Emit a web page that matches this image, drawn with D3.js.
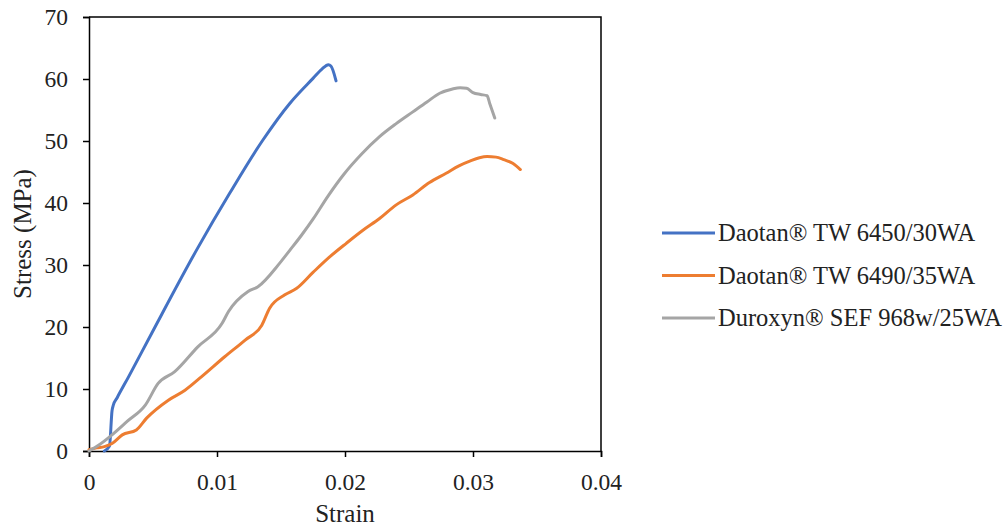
<!DOCTYPE html>
<html>
<head>
<meta charset="utf-8">
<script src="https://cdn.jsdelivr.net/npm/d3@7"></script>
<style>
  body { margin: 0; background: #fff; }
  svg { display: block; font-family: "Liberation Serif", "Times New Roman", serif; }
</style>
</head>
<body>
<svg id="chart" width="1005" height="529"></svg>
<script>
// series names (legend order)
var seriesNames = ["Daotan\u00ae TW 6450/30WA", "Daotan\u00ae TW 6490/35WA", "Duroxyn\u00ae SEF 968w/25WA"];
var seriesColors = ["#4472C4", "#ED7D31", "#A5A5A5"];

// strain / stress
var strain6450 = [0.0012, 0.0016, 0.0018, 0.0019, 0.0022, 0.0031, 0.0049, 0.0084, 0.011, 0.0136, 0.0157, 0.0175, 0.0182, 0.0187, 0.0189, 0.0193];
var stress6450 = [0, 0.8, 6.5, 7.4, 8.6, 12, 19, 32.4, 41.6, 50.2, 56.1, 60.1, 61.6, 62.3, 62.1, 59.7];

var strain6490 = [0, 0.0006, 0.0012, 0.0018, 0.0026, 0.0037, 0.0045, 0.0062, 0.0075, 0.0088, 0.0106, 0.0122, 0.0135, 0.0141, 0.0153, 0.0162, 0.0175, 0.0188, 0.0201, 0.0214, 0.0227, 0.024, 0.0253, 0.0266, 0.0279, 0.0289, 0.0298, 0.0305, 0.0311, 0.0318, 0.0324, 0.0331, 0.0337];
var stress6490 = [0.2, 0.5, 0.7, 1.2, 2.6, 3.4, 5.3, 8.2, 9.8, 12.0, 15.2, 17.9, 20.3, 23.0, 25.2, 26.2, 28.8, 31.3, 33.5, 35.6, 37.5, 39.7, 41.3, 43.3, 44.8, 46.0, 46.8, 47.3, 47.5, 47.4, 47.0, 46.4, 45.4];

var strain968 = [0, 0.0008, 0.0018, 0.003, 0.0044, 0.0054, 0.0067, 0.0085, 0.0104, 0.0109, 0.0124, 0.0132, 0.0149, 0.0157, 0.0166, 0.0175, 0.0187, 0.0199, 0.0213, 0.0227, 0.024, 0.0253, 0.0264, 0.0274, 0.0284, 0.029, 0.0295, 0.03, 0.0306, 0.0311, 0.0313, 0.0317];
var stress968 = [0, 1.0, 2.6, 4.8, 7.4, 10.9, 12.8, 16.8, 20.6, 22.5, 25.7, 26.5, 30.3, 32.4, 34.8, 37.4, 41.2, 44.6, 47.9, 50.7, 52.8, 54.7, 56.3, 57.7, 58.4, 58.6, 58.5, 57.8, 57.5, 57.3, 56.1, 53.7];

var xTicks = [0, 0.01, 0.02, 0.03, 0.04];
var yTicks = [0, 10, 20, 30, 40, 50, 60, 70];

var series = [
  { name: seriesNames[0], color: seriesColors[0], xs: strain6450, ys: stress6450 },
  { name: seriesNames[1], color: seriesColors[1], xs: strain6490, ys: stress6490 },
  { name: seriesNames[2], color: seriesColors[2], xs: strain968, ys: stress968 }
];

// plot box edges
var plotLeft = 89, plotRight = 601, plotTop = 17, plotBottom = 451;

var svg = d3.select("#chart");

var x = d3.scaleLinear().domain([0, 0.04]).range([plotLeft, plotRight]);
var y = d3.scaleLinear().domain([0, 70]).range([plotBottom, plotTop]);

// frame (top and right edges)
svg.append("path")
  .attr("d", "M" + plotLeft + "," + plotTop + "H" + plotRight + "V" + plotBottom)
  .attr("fill", "none")
  .attr("stroke", "#000")
  .attr("stroke-width", 1.5);

// y axis
var yAxis = svg.append("g")
  .attr("transform", "translate(" + plotLeft + ",0)")
  .call(d3.axisLeft(y).tickValues(yTicks).tickSize(6).tickPadding(15).tickFormat(d3.format("d")));

// x axis
var xAxis = svg.append("g")
  .attr("transform", "translate(0," + plotBottom + ")")
  .call(d3.axisBottom(x).tickValues(xTicks).tickSize(6).tickPadding(16)
    .tickFormat(function(d){ return d === 0 ? "0" : d3.format(".2f")(d); }));

[xAxis, yAxis].forEach(function(ax){
  ax.select(".domain").attr("stroke", "#000").attr("stroke-width", 1.5);
  ax.selectAll(".tick line").attr("stroke", "#000").attr("stroke-width", 1.5);
  ax.selectAll(".tick text")
    .attr("fill", "#222")
    .style("font-family", "Liberation Serif, Times New Roman, serif")
    .style("font-size", "23.5px");
});

// axis titles
svg.append("text")
  .attr("x", (plotLeft + plotRight) / 2)
  .attr("y", 522)
  .attr("text-anchor", "middle")
  .attr("fill", "#222")
  .style("font-size", "25px")
  .text("Strain");

svg.append("text")
  .attr("transform", "translate(31," + ((plotTop + plotBottom) / 2) + ") rotate(-90)")
  .attr("text-anchor", "middle")
  .attr("fill", "#222")
  .style("font-size", "25px")
  .text("Stress (MPa)");

// curves
var line = d3.line()
  .x(function(d){ return x(d[0]); })
  .y(function(d){ return y(d[1]); })
  .curve(d3.curveMonotoneX);

series.forEach(function(s){
  var pts = s.xs.map(function(v, i){ return [v, s.ys[i]]; });
  svg.append("path")
    .datum(pts)
    .attr("d", line)
    .attr("fill", "none")
    .attr("stroke", s.color)
    .attr("stroke-width", 3)
    .attr("stroke-linejoin", "round")
    .attr("stroke-linecap", "round");
});

// legend
var legend = svg.append("g").attr("transform", "translate(662,233)");
series.forEach(function(s, i){
  var g = legend.append("g").attr("transform", "translate(0," + (i * 42.5) + ")");
  g.append("line")
    .attr("x1", 0).attr("x2", 53)
    .attr("stroke", s.color)
    .attr("stroke-width", 3);
  g.append("text")
    .attr("x", 56)
    .attr("y", 8)
    .attr("fill", "#222")
    .style("font-size", "24.5px")
    .text(s.name);
});
</script>
</body>
</html>
